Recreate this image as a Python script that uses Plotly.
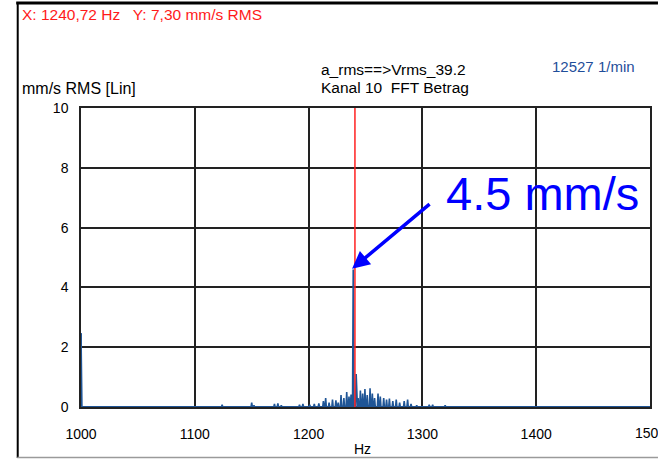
import plotly.graph_objects as go

# ---- data ----
start_freq = 1000.0
start_amp = 2.47
peak_freqs = [1124, 1150, 1152, 1170, 1173, 1176, 1192, 1195, 1201, 1205, 1209, 1213,
              1215, 1218, 1221, 1224, 1226, 1228.5, 1231, 1233.5, 1235.5, 1237.3,
              1239.2, 1241.8, 1243.5, 1245.5, 1247.5, 1249.5, 1251.5, 1254, 1256, 1258,
              1261, 1263, 1266, 1268.5, 1271, 1274, 1277, 1280, 1284, 1287, 1290,
              1295, 1306, 1309, 1320]
peak_amps = [0.08, 0.15, 0.06, 0.1, 0.12, 0.06, 0.08, 0.1, 0.08, 0.1, 0.12, 0.2,
             0.3, 0.15, 0.25, 0.22, 0.15, 0.4, 0.3, 0.5, 0.35, 0.42,
             4.6, 1.1, 0.3, 0.55, 0.45, 0.6, 0.4, 0.63, 0.45, 0.3,
             0.45, 0.35, 0.3, 0.25, 0.28, 0.2, 0.25, 0.15, 0.2, 0.25, 0.1,
             0.06, 0.08, 0.08, 0.06]
end_freq = 1500.0
cursor_freq = 1240.72

x_ticks = [1000, 1100, 1200, 1300, 1400, 1500]
y_ticks = [0, 2, 4, 6, 8, 10]

# build spectrum line
xs = [start_freq, start_freq + 0.8]
ys = [start_amp, 0.0]
for f, a in zip(peak_freqs, peak_amps):
    xs += [f - 0.6, f, f + 0.6]
    ys += [0.0, a, 0.0]
xs.append(end_freq)
ys.append(0.0)

L, R, T, B = 81, 652, 108, 407
W, H = 658, 459


def px(x):
    return (x - L) / (R - L)


def py(y):
    return (B - y) / (B - T)


LINE_BLUE = "#1f5596"

fig = go.Figure()
fig.add_trace(go.Scatter(x=xs, y=ys, mode="lines",
                         line=dict(color=LINE_BLUE, width=1.6),
                         hoverinfo="skip", showlegend=False))

font = "Liberation Sans, Arial, sans-serif"
fig.update_layout(
    width=W, height=H,
    margin=dict(l=L, r=W - R, t=T, b=H - B, pad=0),
    paper_bgcolor="white", plot_bgcolor="white",
    font=dict(family=font, size=14, color="black"),
    xaxis=dict(range=[1000, 1500], tickvals=x_ticks[:-1], ticktext=[str(v) for v in x_ticks[:-1]],
               showgrid=True, gridcolor="#222", gridwidth=1.5, zeroline=False,
               showline=True, linecolor="#222", linewidth=1.5, mirror=True,
               ticks="", ticklen=0, ticklabelstandoff=13, tickfont=dict(size=14, family=font),
               layer="below traces"),
    yaxis=dict(range=[0, 10], tickvals=y_ticks, ticktext=[str(v) for v in y_ticks],
               showgrid=True, gridcolor="#222", gridwidth=1.5, zeroline=False,
               showline=True, linecolor="#222", linewidth=1.5, mirror=True,
               ticks="", ticklen=0, ticklabelstandoff=8,
               tickfont=dict(size=14, family=font),
               layer="below traces"),
)

shapes = [
    dict(type="line", xref="x", yref="y", x0=1000, x1=1500, y0=0, y1=0,
         line=dict(color=LINE_BLUE, width=2), layer="above"),
    dict(type="line", xref="x", yref="y", x0=start_freq, x1=start_freq, y0=0, y1=start_amp,
         line=dict(color=LINE_BLUE, width=2), layer="above"),
    dict(type="line", xref="x", yref="y", x0=cursor_freq, x1=cursor_freq, y0=0, y1=10,
         line=dict(color="#ff2020", width=1.5), layer="above"),
    dict(type="line", xref="paper", yref="paper", x0=px(16), x1=px(660), y0=py(3), y1=py(3),
         line=dict(color="black", width=3)),
    dict(type="line", xref="paper", yref="paper", x0=px(17.5), x1=px(17.5), y0=py(2), y1=py(458),
         line=dict(color="black", width=2)),
    dict(type="line", xref="paper", yref="paper", x0=px(17), x1=px(660), y0=py(457.5), y1=py(457.5),
         line=dict(color="#9a9a9a", width=1.5)),
]
fig.update_layout(shapes=shapes)

ann = []


def text(t, x, y, size=13, color="black", xa="left", ya="middle", xref="paper"):
    ann.append(dict(text=t, xref=xref, yref="paper", x=px(x) if xref == "paper" else x, y=py(y),
                    xanchor=xa, yanchor=ya, showarrow=False,
                    font=dict(family=font, size=size, color=color)))


text("X: 1240,72 Hz   Y: 7,30 mm/s RMS", 20, 14, 15.5, "#ff1a1a")
text("mm/s RMS [Lin]", 20, 88, 16)
text("a_rms==>Vrms_39.2", 320, 69, 15.5)
text("Kanal 10  FFT Betrag", 320, 87, 15.5)
text("12527 1/min", 552, 66, 15, "#1f4e9a")
text("Hz", 363, 449, 14, xa="center")
text(str(x_ticks[-1]), x_ticks[-1], 433, 14, xa="center", xref="x")
text("4.5 mm/s", 544, 193, 47, "#0000ff", xa="center")

ann.append(dict(x=1238.2, y=4.62, xref="x", yref="y", ax=79, ay=-66, axref="pixel", ayref="pixel",
                text="", showarrow=True, arrowhead=2, arrowsize=1.0, arrowwidth=3.5,
                arrowcolor="#0000ff", standoff=0))
fig.update_layout(annotations=ann)

fig.write_html("out.html")
